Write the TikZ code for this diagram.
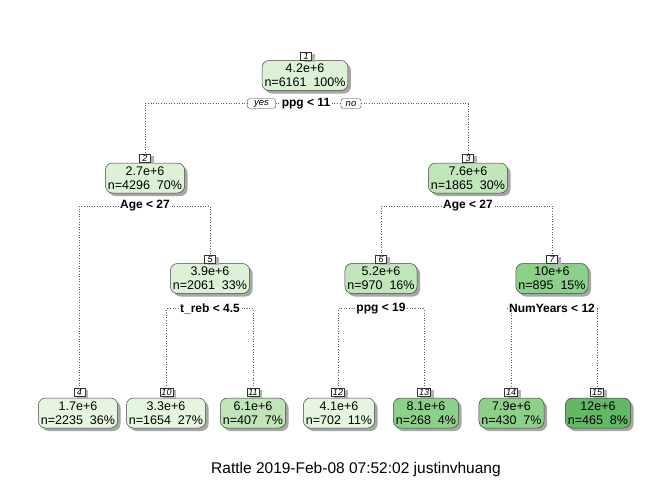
\documentclass[tikz,border=0pt]{standalone}
\usepackage{fontspec}
\setmainfont{Liberation Sans}
\usetikzlibrary{shadows}
\definecolor{gA}{HTML}{E5F5E0}
\definecolor{gB}{HTML}{DDF1D6}
\definecolor{gC}{HTML}{BFE5B8}
\definecolor{gD}{HTML}{8DD08A}
\definecolor{gE}{HTML}{63B866}
\tikzset{
  tnode/.style={draw=black!75, line width=0.5pt, rounded corners=7pt, align=center,
    font=\fontsize{12.5}{14}\selectfont, inner xsep=2.5pt, inner ysep=1pt,
    minimum height=30pt,
    drop shadow={shadow xshift=3pt, shadow yshift=-3pt, fill=black!35, opacity=1}},
  numlab/.style={draw=black!80, fill=white, line width=0.4pt,
    font=\fontsize{9}{9}\selectfont\itshape, inner xsep=1.5pt, inner ysep=0pt,
    minimum width=11pt, minimum height=8pt,
    drop shadow={shadow xshift=3pt, shadow yshift=-1.5pt, fill=black!30, opacity=1}},
  splitlab/.style={font=\bfseries\fontsize{12}{12}\selectfont, inner sep=1.5pt},
  ynlab/.style={draw=black!80, fill=white, line width=0.4pt, rounded corners=2pt,
    font=\itshape\fontsize{9.5}{9.5}\selectfont, inner xsep=2pt, inner ysep=0.5pt,
    minimum height=9.5pt},
  conn/.style={dotted, line width=0.6pt, draw=black!65},
}
\begin{document}
\begin{tikzpicture}[x=1pt,y=-1pt]
\useasboundingbox (0,0) rectangle (672,480);
% internal nodes
\node[tnode, fill=gB] (n1) at (305,75.5) {4.2e+6\\n=6161~~100\%};
\node[numlab] (l1) at (306,56) {1};
\node[splitlab] (s1) at (306,103.5) {ppg < 11};
\node[ynlab, minimum width=28pt] (yes) at (261.5,103.5) {yes};
\node[ynlab, minimum width=20pt] (no) at (351,103.5) {no};

\node[tnode, fill=gB] (n2) at (145,178) {2.7e+6\\n=4296~~70\%};
\node[numlab] (l2) at (145,158.5) {2};
\node[splitlab] (s2) at (145,206) {Age < 27};

\node[tnode, fill=gC] (n3) at (468,178) {7.6e+6\\n=1865~~30\%};
\node[numlab] (l3) at (468,158.5) {3};
\node[splitlab] (s3) at (468,206) {Age < 27};

\node[tnode, fill=gB] (n5) at (210,278.5) {3.9e+6\\n=2061~~33\%};
\node[numlab] (l5) at (210,259) {5};
\node[splitlab] (s5) at (210,308.5) {t\_reb < 4.5};

\node[tnode, fill=gC] (n6) at (381,278.5) {5.2e+6\\n=970~~16\%};
\node[numlab] (l6) at (381,259) {6};
\node[splitlab] (s6) at (381,308.5) {ppg < 19};

\node[tnode, fill=gD] (n7) at (552,278.5) {10e+6\\n=895~~15\%};
\node[numlab] (l7) at (552,259) {7};
\node[splitlab] (s7) at (552,308.5) {NumYears < 12};

% leaves
\node[tnode, fill=gA] (n4) at (78,413) {1.7e+6\\n=2235~~36\%};
\node[numlab] (l4) at (79.5,392) {4};
\node[tnode, fill=gA] (n10) at (166,413) {3.3e+6\\n=1654~~27\%};
\node[numlab] (l10) at (166.5,392) {10};
\node[tnode, fill=gC] (n11) at (253,413) {6.1e+6\\n=407~~7\%};
\node[numlab] (l11) at (253,392) {11};
\node[tnode, fill=gA] (n12) at (339,413) {4.1e+6\\n=702~~11\%};
\node[numlab] (l12) at (338,392) {12};
\node[tnode, fill=gD] (n13) at (426,413) {8.1e+6\\n=268~~4\%};
\node[numlab] (l13) at (424,392) {13};
\node[tnode, fill=gD] (n14) at (511.5,413) {7.9e+6\\n=430~~7\%};
\node[numlab] (l14) at (511,392) {14};
\node[tnode, fill=gE] (n15) at (598,413) {12e+6\\n=465~~8\%};
\node[numlab] (l15) at (597,392) {15};

% connectors
\draw[conn] (yes.west) -| (l2.north);
\draw[conn] (yes.east) -- (s1.west);
\draw[conn] (s1.east) -- (no.west);
\draw[conn] (no.east) -| (l3.north);
\draw[conn] (s2.west) -| (l4.north);
\draw[conn] (s2.east) -| (l5.north);
\draw[conn] (s3.west) -| (l6.north);
\draw[conn] (s3.east) -| (l7.north);
\draw[conn] (s5.west) -| (l10.north);
\draw[conn] (s5.east) -| (l11.north);
\draw[conn] (s6.west) -| (l12.north);
\draw[conn] (s6.east) -| (l13.north);
\draw[conn] (s7.west) -| (l14.north);
\draw[conn] (s7.east) -| (l15.north);

\node[font=\fontsize{15.5}{15.5}\selectfont] (foot) at (356,469) {Rattle 2019-Feb-08 07:52:02 justinvhuang};
\end{tikzpicture}
\end{document}
